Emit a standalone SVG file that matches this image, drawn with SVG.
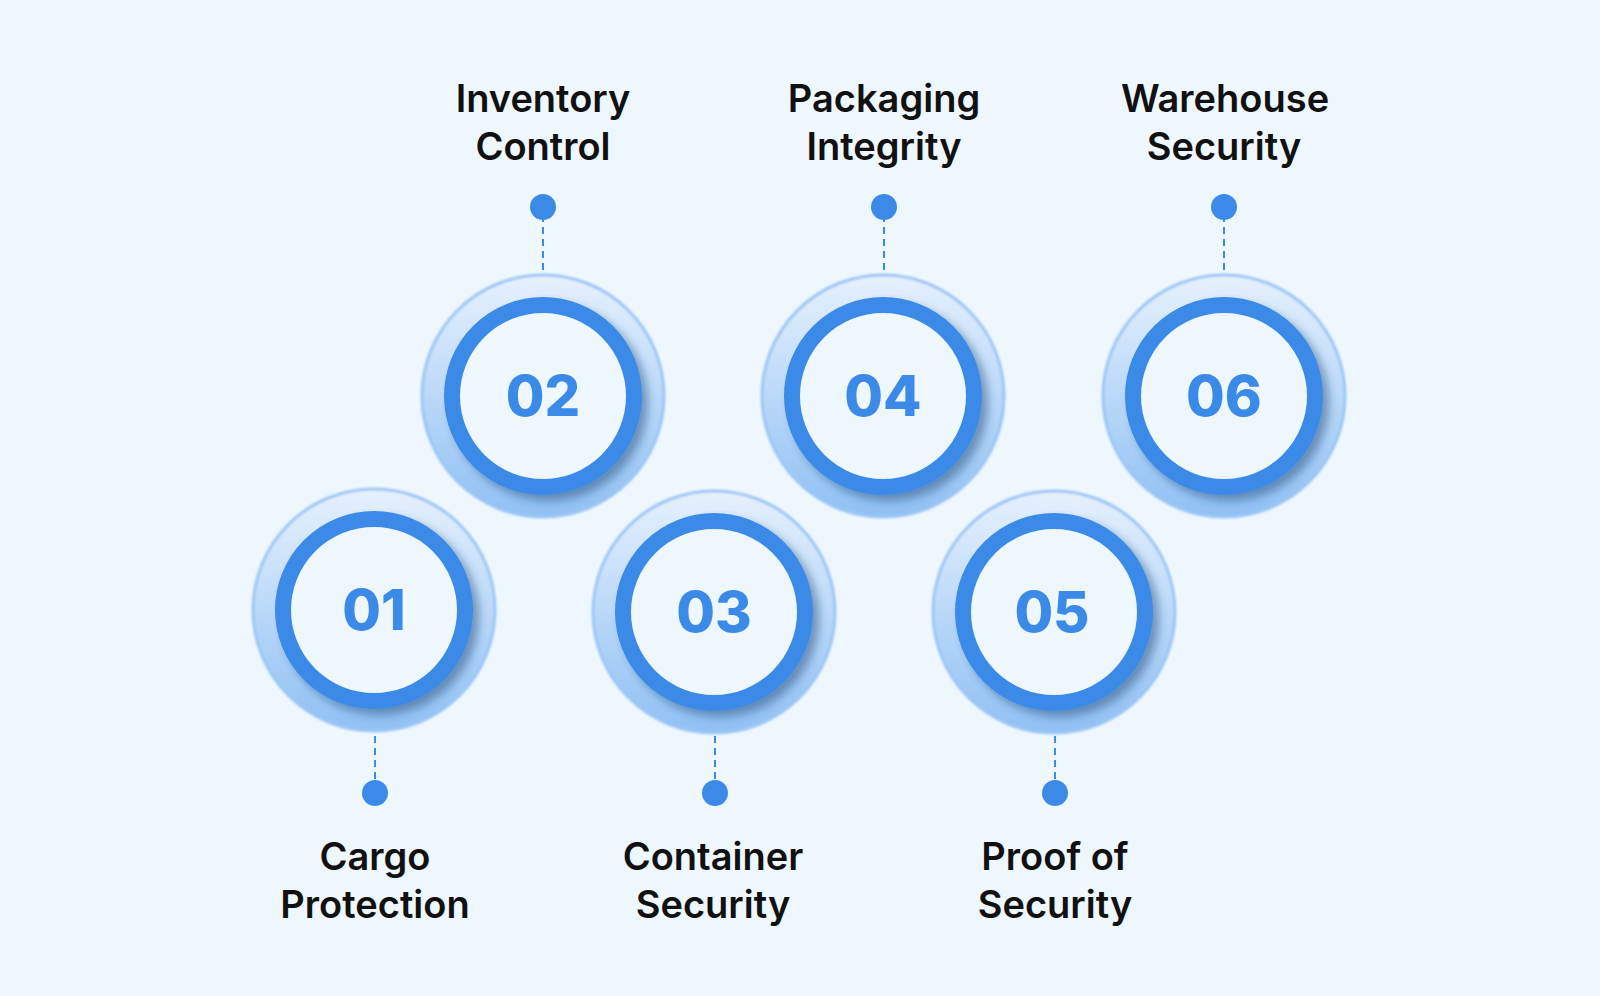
<svg xmlns="http://www.w3.org/2000/svg" width="1600" height="996" viewBox="0 0 1600 996">
<defs>
<linearGradient id="halo" x1="0" y1="0" x2="0" y2="1">
<stop offset="0" stop-color="#e6f1fd"/><stop offset="1" stop-color="#8fc0f4"/>
</linearGradient>
<filter id="sh" x="-30%" y="-30%" width="160%" height="160%"><feDropShadow dx="6" dy="6" stdDeviation="4" flood-color="#1c3f6e" flood-opacity="0.45"/></filter>
<filter id="bl" x="-10%" y="-10%" width="120%" height="120%"><feGaussianBlur stdDeviation="1"/></filter>
</defs>
<style>
.lbl{font-family:Inter,"Liberation Sans",sans-serif;font-weight:600;font-size:38px;fill:#111;text-anchor:middle}
.num{font-family:Inter,"Liberation Sans",sans-serif;font-weight:800;font-size:56px;fill:#3b8ae8;text-anchor:middle}
.halo{fill:url(#halo);stroke:#9cc6f5;stroke-width:3;filter:url(#bl)}
.ring{fill:#eef7fe;stroke:#3b8ae8;stroke-width:16;filter:url(#sh)}
.dash{stroke:#3b8ae8;stroke-width:2;stroke-dasharray:7 5;fill:none}
.dot{fill:#3b8ae8}
</style>
<rect width="1600" height="996" fill="#eef7fe"/>
<g id="connectors">
<line class="dash" x1="543" y1="215" x2="543" y2="298"/>
<line class="dash" x1="884" y1="215" x2="884" y2="298"/>
<line class="dash" x1="1224" y1="215" x2="1224" y2="298"/>
<line class="dash" x1="375" y1="712" x2="375" y2="782"/>
<line class="dash" x1="715" y1="712" x2="715" y2="782"/>
<line class="dash" x1="1055" y1="712" x2="1055" y2="782"/>
</g>
<g id="n01"><circle class="halo" cx="374" cy="610" r="121"/><circle class="ring" cx="374" cy="610" r="91"/><text class="num" x="374" y="630">01</text><circle class="dot" cx="375" cy="793" r="13"/><text class="lbl" x="375" y="870">Cargo</text><text class="lbl" x="375" y="918">Protection</text></g>
<g id="n02"><circle class="halo" cx="543" cy="396" r="121"/><circle class="ring" cx="543" cy="396" r="91"/><text class="num" x="543" y="416">02</text><circle class="dot" cx="543" cy="207" r="13"/><text class="lbl" x="543" y="112">Inventory</text><text class="lbl" x="543" y="160">Control</text></g>
<g id="n03"><circle class="halo" cx="714" cy="612" r="121"/><circle class="ring" cx="714" cy="612" r="91"/><text class="num" x="714" y="632">03</text><circle class="dot" cx="715" cy="793" r="13"/><text class="lbl" x="713" y="870">Container</text><text class="lbl" x="713" y="918">Security</text></g>
<g id="n04"><circle class="halo" cx="883" cy="396" r="121"/><circle class="ring" cx="883" cy="396" r="91"/><text class="num" x="883" y="416">04</text><circle class="dot" cx="884" cy="207" r="13"/><text class="lbl" x="884" y="112">Packaging</text><text class="lbl" x="884" y="160">Integrity</text></g>
<g id="n05"><circle class="halo" cx="1054" cy="612" r="121"/><circle class="ring" cx="1054" cy="612" r="91"/><text class="num" x="1052" y="632">05</text><circle class="dot" cx="1055" cy="793" r="13"/><text class="lbl" x="1055" y="870">Proof of</text><text class="lbl" x="1055" y="918">Security</text></g>
<g id="n06"><circle class="halo" cx="1224" cy="396" r="121"/><circle class="ring" cx="1224" cy="396" r="91"/><text class="num" x="1224" y="416">06</text><circle class="dot" cx="1224" cy="207" r="13"/><text class="lbl" x="1225" y="112">Warehouse</text><text class="lbl" x="1224" y="160">Security</text></g>
</svg>
